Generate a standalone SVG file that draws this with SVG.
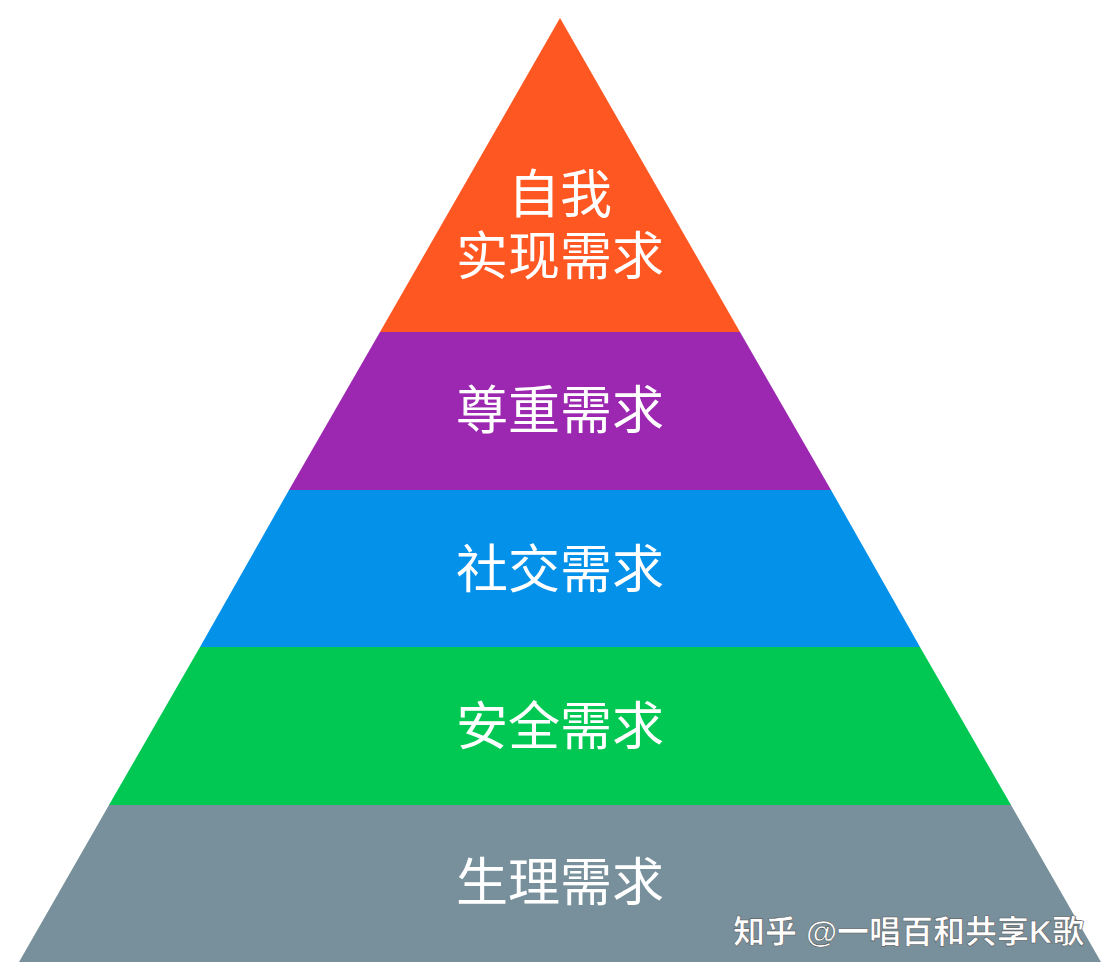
<svg xmlns="http://www.w3.org/2000/svg" width="1120" height="980" viewBox="0 0 1120 980">
<style>
.t{fill:#fff;font-family:"Liberation Sans","Noto Sans CJK SC",sans-serif;font-size:52px;text-anchor:middle}
.w{fill:#fff;font-family:"Liberation Sans","Noto Sans CJK SC",sans-serif;font-size:32px;font-weight:bold;stroke:#555;stroke-width:0.6}
</style>
<rect width="1120" height="980" fill="#fff"/>
<g id="self"><polygon points="560,18 740,332 380,332" fill="#FF5722"/><text class="t" x="560" y="213">自我</text><text class="t" x="560" y="275">实现需求</text></g>
<g id="esteem"><polygon points="380,332 740,332 831,490 289,490" fill="#9C27B0"/><text class="t" x="560" y="429">尊重需求</text></g>
<g id="social"><polygon points="289,490 831,490 920,647 200,647" fill="#0391EA"/><text class="t" x="560" y="588">社交需求</text></g>
<g id="safety"><polygon points="200,647 920,647 1011,805 109,805" fill="#00C853"/><text class="t" x="560" y="745">安全需求</text></g>
<g id="physio"><polygon points="109,805 1011,805 1101,962 19,962" fill="#78909C"/><text class="t" x="560" y="901">生理需求</text></g>
<text class="w" x="733" y="943">知乎 @一唱百和共享K歌</text>
</svg>
